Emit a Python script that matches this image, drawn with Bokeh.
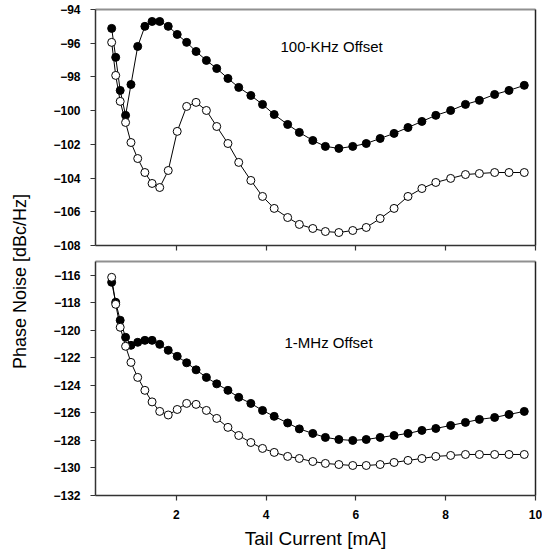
from math import pi
from bokeh.plotting import figure
from bokeh.layouts import row, column
from bokeh.models import Range1d, FixedTicker, LinearAxis, Label
from bokeh.embed import file_html
from bokeh.resources import INLINE

# ---- data ----
tail_current = [0.56, 0.65, 0.75, 0.87, 0.99, 1.14, 1.30, 1.46, 1.63, 1.82,
                2.02, 2.23, 2.44, 2.67, 2.90, 3.15, 3.39, 3.66, 3.92, 4.18,
                4.48, 4.74, 5.04, 5.32, 5.62, 5.93, 6.23, 6.54, 6.85, 7.16,
                7.47, 7.78, 8.11, 8.44, 8.75, 9.09, 9.41, 9.75]

pn_100k_filled = [-95.12, -96.84, -98.80, -100.28, -98.45, -96.19, -95.00, -94.71, -94.71, -95.00,
                  -95.48, -95.95, -96.49, -97.02, -97.50, -98.09, -98.62, -99.10, -99.63, -100.23,
                  -100.82, -101.29, -101.77, -102.12, -102.24, -102.12, -101.95, -101.65, -101.35, -101.00,
                  -100.64, -100.28, -99.99, -99.63, -99.39, -99.04, -98.80, -98.50]

pn_100k_open = [-95.95, -97.91, -99.45, -100.70, -101.89, -102.84, -103.67, -104.32, -104.56, -103.55,
                -101.23, -99.75, -99.51, -99.99, -100.94, -101.95, -103.07, -104.14, -105.09, -105.80,
                -106.34, -106.75, -106.99, -107.17, -107.23, -107.11, -106.93, -106.40, -105.80, -105.09,
                -104.62, -104.26, -104.02, -103.79, -103.73, -103.67, -103.67, -103.67]

pn_1m_filled = [-116.51, -117.96, -119.27, -120.51, -121.09, -120.87, -120.73, -120.73, -121.02, -121.45,
                -121.89, -122.36, -122.87, -123.42, -123.89, -124.36, -124.87, -125.31, -125.82, -126.25,
                -126.73, -127.16, -127.49, -127.78, -127.93, -128.00, -127.93, -127.78, -127.64, -127.49,
                -127.27, -127.13, -126.91, -126.69, -126.47, -126.33, -126.11, -125.89]

pn_1m_open = [-116.15, -118.11, -119.78, -121.16, -122.33, -123.42, -124.36, -125.20, -125.89, -126.15,
              -125.75, -125.31, -125.38, -125.82, -126.40, -127.05, -127.64, -128.15, -128.58, -128.87,
              -129.16, -129.31, -129.53, -129.67, -129.75, -129.82, -129.82, -129.75, -129.60, -129.45,
              -129.31, -129.16, -129.09, -129.02, -129.02, -129.02, -129.02, -129.02]

x_ticks = [2, 4, 6, 8, 10]
top_y_ticks = [-108, -106, -104, -102, -100, -98, -96, -94]
bottom_y_ticks = [-132, -130, -128, -126, -124, -122, -120, -118, -116]

FONT = "Liberation Sans"


def make_panel(height, y_lo, y_hi, y_ticks, mb_top, mb_bottom, show_x_labels):
    p = figure(width=504, height=height, x_range=Range1d(0.2, 10), y_range=Range1d(y_lo, y_hi),
               output_backend="svg", toolbar_location=None,
               min_border_left=57, min_border_right=7,
               min_border_top=mb_top, min_border_bottom=mb_bottom)
    p.grid.visible = False
    p.outline_line_color = None
    p.background_fill_color = "white"
    p.xaxis.ticker = FixedTicker(ticks=x_ticks)
    p.yaxis.ticker = FixedTicker(ticks=y_ticks)
    for ax in (p.xaxis[0], p.yaxis[0]):
        ax.axis_line_color = "#333333"
        ax.axis_line_width = 1.5
        ax.major_tick_line_color = "#333333"
        ax.major_tick_line_width = 1.2
        ax.major_tick_in = 0
        ax.major_tick_out = 5
        ax.minor_tick_line_color = None
        ax.major_label_text_font = FONT
        ax.major_label_text_font_style = "bold"
        ax.major_label_text_font_size = "12px"
        ax.major_label_text_color = "black"
    p.yaxis.major_label_standoff = 10
    if show_x_labels:
        p.xaxis.major_label_standoff = 9
        p.xaxis.axis_label = "Tail Current [mA]"
        p.xaxis.axis_label_text_font = FONT
        p.xaxis.axis_label_text_font_style = "normal"
        p.xaxis.axis_label_text_font_size = "19px"
        p.xaxis.axis_label_text_color = "black"
        p.xaxis.axis_label_standoff = 6
    else:
        # tick marks only on the upper panel: labels are not drawn
        p.xaxis.major_label_text_color = None
        p.xaxis.major_label_text_font_size = "1px"
        p.xaxis.major_label_standoff = 0

    top_ax = LinearAxis(ticker=FixedTicker(ticks=[]), axis_line_color="#909090", axis_line_width=2,
                        major_tick_line_color=None, minor_tick_line_color=None,
                        major_label_text_color=None, major_label_text_font_size="1px",
                        major_label_standoff=0, major_tick_out=0, major_tick_in=0)
    right_ax = LinearAxis(ticker=FixedTicker(ticks=[]), axis_line_color="#222222", axis_line_width=1.5,
                          major_tick_line_color=None, minor_tick_line_color=None,
                          major_label_text_color=None, major_label_text_font_size="1px",
                          major_label_standoff=0, major_tick_out=0, major_tick_in=0)
    p.add_layout(top_ax, "above")
    p.add_layout(right_ax, "right")
    return p


def add_series(p, y_filled, y_open):
    p.line(tail_current, y_filled, line_color="black", line_width=1)
    p.scatter(tail_current, y_filled, marker="circle", size=8,
              fill_color="black", line_color="black", line_width=1)
    p.line(tail_current, y_open, line_color="black", line_width=1)
    p.scatter(tail_current, y_open, marker="circle", size=8,
              fill_color="white", line_color="black", line_width=1)


top = make_panel(253, -108, -94, top_y_ticks, 9, 8, False)
add_series(top, pn_100k_filled, pn_100k_open)
top.add_layout(Label(x=4.32, y=-96.19, text="100-KHz Offset", text_align="left",
                     text_baseline="middle", text_font=FONT, text_font_size="15px",
                     text_color="black"))

bottom = make_panel(303, -132, -115, bottom_y_ticks, 8, 61, True)
add_series(bottom, pn_1m_filled, pn_1m_open)
bottom.add_layout(Label(x=4.41, y=-120.87, text="1-MHz Offset", text_align="left",
                        text_baseline="middle", text_font=FONT, text_font_size="15px",
                        text_color="black"))

lab = figure(width=38, height=556, x_range=Range1d(0, 1), y_range=Range1d(0, 1),
             output_backend="svg", toolbar_location=None,
             x_axis_location=None, y_axis_location=None, min_border=0)
lab.grid.visible = False
lab.outline_line_color = None
lab.add_layout(Label(x=19 / 38, y=1 - 281 / 556, text="Phase Noise [dBc/Hz]", angle=pi / 2,
                     text_align="center", text_baseline="middle", text_font=FONT,
                     text_font_size="18px", text_color="black"))

layout = row(lab, column(top, bottom))

open("out.html", "w").write(file_html(layout, INLINE))
